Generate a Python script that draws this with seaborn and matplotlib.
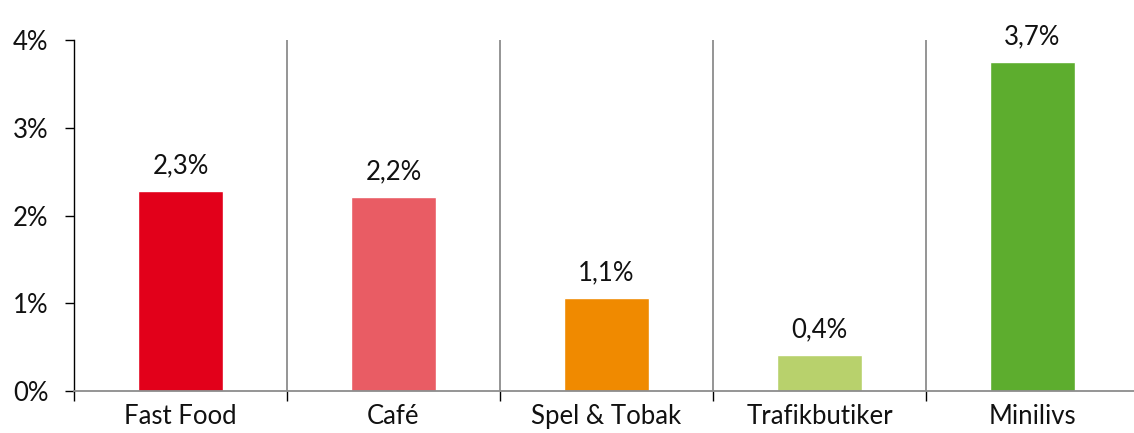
import numpy as np
import pandas as pd
import seaborn as sns
import matplotlib.pyplot as plt
from matplotlib.ticker import FixedLocator

# data
kategorier = ["Fast Food", "Café", "Spel & Tobak", "Trafikbutiker", "Minilivs"]
andel = [2.28, 2.21, 1.06, 0.41, 3.75]
etiketter = ["2,3%", "2,2%", "1,1%", "0,4%", "3,7%"]
farger = ["#E2001A", "#E95C64", "#F08A00", "#B8D16C", "#5DAD2E"]
y_ticks = [0, 1, 2, 3, 4]

sns.set_style("white")
plt.rcParams["font.family"] = ["Lato", "DejaVu Sans"]
fs = 18.5

df = pd.DataFrame({"kategori": kategorier, "andel": andel})

fig = plt.figure(figsize=(11.34, 4.33), dpi=100)
ax = fig.add_axes([74 / 1134, 42 / 433, 1065 / 1134, 351 / 433])

sns.barplot(data=df, x="kategori", y="andel", hue="kategori", palette=farger,
            width=0.4, legend=False, ax=ax, saturation=1)

ax.set_xlim(-0.5, 4.5)
ax.set_ylim(0, 4)
ax.set_xlabel("")
ax.set_ylabel("")

# separators between categories
for b in np.arange(0.5, 4.5, 1):
    ax.axvline(b, color="#8C8C8C", lw=1.3, zorder=0)

# value labels
for i, (v, t) in enumerate(zip(andel, etiketter)):
    ax.annotate(t, (i, v), xytext=(0, 9), textcoords="offset points",
                ha="center", va="bottom", fontsize=fs, color="#111111")

ax.yaxis.set_major_locator(FixedLocator(y_ticks))
ax.set_yticklabels([f"{t}%" for t in y_ticks])
ax.tick_params(axis="y", which="both", left=True, length=6.5, width=1, color="black",
               labelsize=fs, labelcolor="#111111", pad=12)

# tick marks at category boundaries, labels centred
ax.set_xticks(np.arange(-0.5, 5, 1), minor=True)
ax.tick_params(axis="x", which="minor", bottom=True, length=7, width=1, color="black")
ax.tick_params(axis="x", which="major", bottom=False, labelsize=fs,
               labelcolor="#111111", pad=6)

for s in ["top", "right"]:
    ax.spines[s].set_visible(False)
ax.spines["left"].set_color("black")
ax.spines["left"].set_linewidth(1)
ax.spines["bottom"].set_color("#8C8C8C")
ax.spines["bottom"].set_linewidth(1.3)

fig.savefig("out.png", dpi=100)
